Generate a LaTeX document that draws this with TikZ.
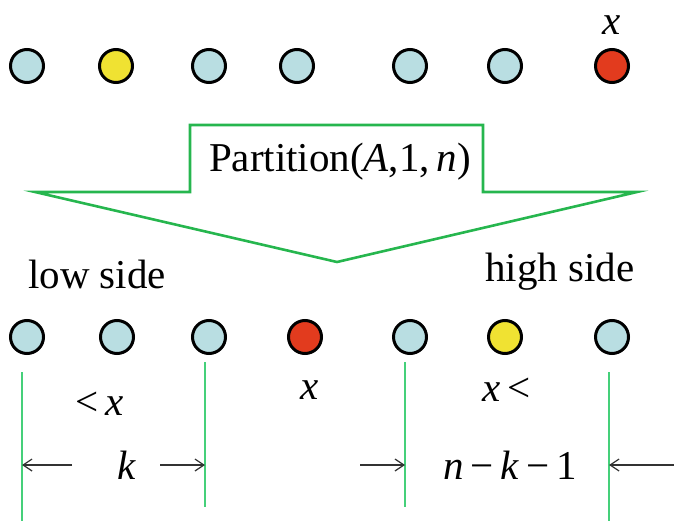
\documentclass[tikz,border=0pt]{standalone}
\usepackage{fontspec}
\setmainfont{Liberation Serif}
\usetikzlibrary{arrows.meta, positioning, shapes.geometric}
\definecolor{ptblue}{HTML}{B9DEE2}
\definecolor{ptyellow}{HTML}{F0E232}
\definecolor{ptred}{HTML}{E23B1E}
\definecolor{ptgreen}{HTML}{26B64E}
\definecolor{ptlight}{HTML}{45D07A}
\tikzset{
  elem/.style={ellipse, draw=black, line width=3pt, minimum width=33pt,
    minimum height=33pt, inner sep=0pt, fill=ptblue},
  pivot/.style={elem, fill=ptred},
  other/.style={elem, fill=ptyellow},
  lbl/.style={font=\fontsize{41}{45}\selectfont, inner sep=0pt},
  bound/.style={draw=ptlight, line width=1.4pt},
  dim/.style={-{Straight Barb[length=9pt, width=12pt]}, line width=1.2pt, draw=black!80},
}

\begin{document}
\begin{tikzpicture}[x=1pt, y=-1pt]
  \useasboundingbox (0,0) rectangle (674,521);
  % input row, pivot is the last element
  \node[elem]  (t1) at (27,66)  {};
  \node[other] (t2) at (116,66) {};
  \node[elem]  (t3) at (209,66) {};
  \node[elem]  (t4) at (297,66) {};
  \node[elem]  (t5) at (410,66) {};
  \node[elem]  (t6) at (505,66) {};
  \node[pivot] (t7) at (612,66) {};
  \node[lbl, above=13pt of t7] (tx) {\textit{x}};

  % the fat arrow
  \draw[ptgreen, line width=2.6pt, line join=miter]
    (190,125) -- (483,125) -- (483,192) -- (637,192) -- (337,262)
    -- (35,192) -- (190,192) -- cycle;
  \node[lbl] (call) at (340,162) {Partition(\textit{A},1,\,\textit{n})};

  \node[lbl] (low) at (97,274) {low side};
  \node[lbl] (high) at (560,272) {high side};

  % result row
  \node[elem]  (b1) at (27,337)  {};
  \node[elem]  (b2) at (117,337) {};
  \node[elem]  (b3) at (209,337) {};
  \node[pivot] (b4) at (305,337) {};
  \node[elem]  (b5) at (410,337) {};
  \node[other] (b6) at (505,337) {};
  \node[elem]  (b7) at (612,337) {};

  \coordinate (l1) at (22,372);  \coordinate (l1e) at (22,521);
  \coordinate (l2) at (205,362); \coordinate (l2e) at (205,507);
  \coordinate (l3) at (405,362); \coordinate (l3e) at (405,507);
  \coordinate (l4) at (609,372); \coordinate (l4e) at (609,521);
  \draw[bound] (l1) -- (l1e);
  \draw[bound] (l2) -- (l2e);
  \draw[bound] (l3) -- (l3e);
  \draw[bound] (l4) -- (l4e);

  \node[lbl] (lt) at (100,404) {<\,\textit{x}};
  \node[lbl] (eq) at (310,390) {\textit{x}};
  \node[lbl] (gt) at (507,390) {\textit{x}\,<};
  \node[lbl] (k) at (127,465) {\textit{k}};
  \node[lbl] (rest) at (510,465) {\textit{n}\,−\,\textit{k}\,−\,1};

  \coordinate (a1) at (72,465);  \coordinate (a1t) at (22,465);
  \coordinate (a2) at (160,465); \coordinate (a2t) at (205,465);
  \coordinate (a3) at (360,465); \coordinate (a3t) at (405,465);
  \coordinate (a4) at (674,465); \coordinate (a4t) at (609,465);
  \draw[dim] (a1) -- (a1t);
  \draw[dim] (a2) -- (a2t);
  \draw[dim] (a3) -- (a3t);
  \draw[dim] (a4) -- (a4t);
\end{tikzpicture}
\end{document}
